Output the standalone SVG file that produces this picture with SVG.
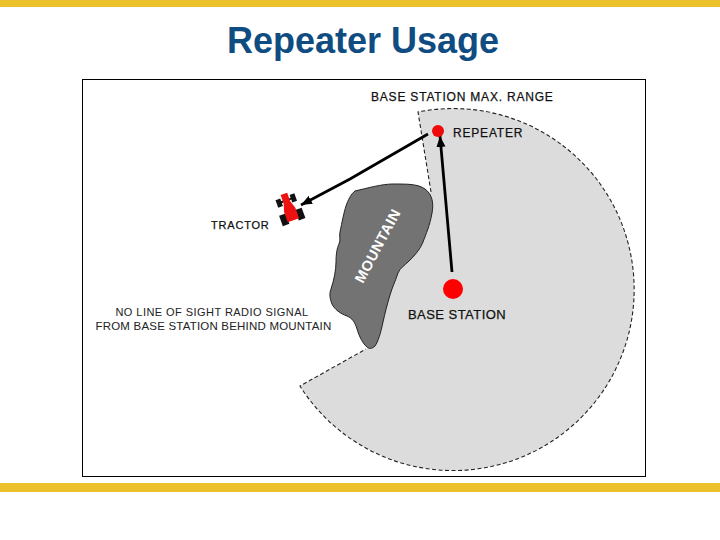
<svg xmlns="http://www.w3.org/2000/svg" width="720" height="540" viewBox="0 0 720 540">
<style>
text{font-family:"Liberation Sans",Arial,sans-serif;fill:#111}
.lbl{font-size:12px;letter-spacing:.8px;stroke:#111;stroke-width:.25px}
.note{font-size:11px;fill:#222}
.conn{stroke:#000;stroke-width:2.800;fill:none}
</style>
<defs>
<marker id="ah" markerUnits="userSpaceOnUse" markerWidth="13" markerHeight="10" refX="11" refY="5" orient="auto"><path d="M0 0.500L11 5L0 9.500z" fill="#000"/></marker>
</defs>
<rect width="720" height="540" fill="#fff"/>
<rect x="0" y="0" width="720" height="7" fill="#ebc12c"/>
<rect x="0" y="483" width="720" height="9" fill="#ebc12c"/>
<text x="363" y="53" text-anchor="middle" style="font-size:36px;font-weight:700;fill:#0f4c81">Repeater Usage</text>
<rect x="82.500" y="79.500" width="563" height="397" fill="#fff" stroke="#000" stroke-width="1"/>
<g id="range">
<path d="M418 112A181 181 0 1 1 300 386L368 348L345 300L425 195L431 192Z" fill="#dcdcdc"/>
<path d="M431 192L418 112A181 181 0 1 1 300 386L366 349" fill="none" stroke="#222" stroke-width="1.100" stroke-dasharray="4 2.500"/>
</g>
<g id="mountain">
<path d="M355 191C368 188 382 184 393 184C408 184 418 184 425 189C432 194 434 203 432 213C430 225 426 234 423 242C420 250 414 256 409 261C404 266 400 268 398 273C395 282 392 288 390 295C387 305 385 313 383 322C381 332 378 342 375 346C372 349 369 349 367 347C363 344 359 336 357 329C355 322 352 318 347 316C341 314 334 309 332 304C330 299 329 294 331 289C334 280 336 270 336 262C336 254 337 248 339 244C341 240 339 236 340 232C342 222 344 212 346 206C348 200 351 194 355 191Z" fill="#737373" stroke="#222" stroke-width="1"/>
<text transform="translate(363 284) rotate(-62)" style="font-size:14.500px;fill:#fff;letter-spacing:.5px;font-weight:700">MOUNTAIN</text>
</g>
<g id="connectors">
<line class="conn" x1="452" y1="272" x2="440" y2="136" marker-end="url(#ah)"/>
<path class="conn" d="M428 134L350 179L301 205" marker-end="url(#ah)"/>
</g>
<g id="repeater">
<circle cx="438" cy="131" r="6" fill="#ee0a0a"/>
<text class="lbl" x="453" y="137">REPEATER</text>
</g>
<g id="base-station">
<circle cx="453" cy="289" r="10" fill="#f00"/>
<text class="lbl" x="408" y="319" style="font-size:13px;letter-spacing:.45px">BASE STATION</text>
</g>
<g id="range-label">
<text class="lbl" x="371" y="101">BASE STATION MAX. RANGE</text>
</g>
<g id="tractor" transform="translate(289 208) rotate(-20)">
<rect x="-10" y="-12" width="5" height="8" fill="#111"/>
<rect x="5" y="-12" width="5" height="8" fill="#111"/>
<rect x="-12" y="4" width="7" height="11" fill="#111"/>
<rect x="5" y="4" width="7" height="11" fill="#111"/>
<rect x="-6" y="-9" width="12" height="2" fill="#111"/>
<path d="M-3.500 -15H3.500V-6L6 2V13H-6V2L-3.500 -6Z" fill="#ee1111"/>
</g>
<g id="tractor-label">
<text class="lbl" x="211" y="229" style="font-size:11px">TRACTOR</text>
</g>
<g id="note">
<text class="note" x="212" y="316" text-anchor="middle" style="letter-spacing:.45px">NO LINE OF SIGHT RADIO SIGNAL</text>
<text class="note" x="213.500" y="330" text-anchor="middle" style="font-size:11.500px;letter-spacing:.2px">FROM BASE STATION BEHIND MOUNTAIN</text>
</g>
</svg>
